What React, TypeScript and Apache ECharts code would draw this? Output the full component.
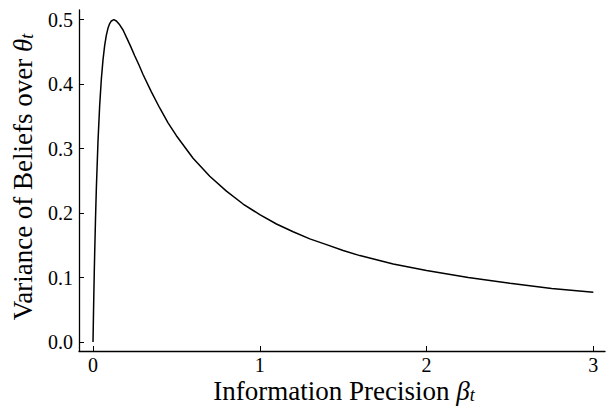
import React, { useEffect, useRef } from "react";
import * as echarts from "echarts";

const precision: number[] = [
  0, 0.0025, 0.005, 0.0075, 0.01, 0.015, 0.02, 0.03, 0.04, 0.05, 0.06, 0.07, 0.08, 0.09, 0.1,
  0.11, 0.125, 0.14, 0.16, 0.18, 0.2, 0.225, 0.25, 0.275, 0.3, 0.35, 0.4, 0.45, 0.5, 0.6, 0.7,
  0.8, 0.9, 1.0, 1.1, 1.2, 1.3, 1.4, 1.5, 1.6, 1.8, 2.0, 2.25, 2.5, 2.75, 3.0,
];
const variance: number[] = [
  0, 0.038, 0.074, 0.107, 0.137, 0.191, 0.238, 0.312, 0.367, 0.408, 0.438, 0.46, 0.476, 0.487, 0.494,
  0.498, 0.5, 0.498, 0.492, 0.484, 0.473, 0.459, 0.444, 0.43, 0.415, 0.388, 0.363, 0.34, 0.32, 0.285, 0.257,
  0.234, 0.214, 0.1975, 0.183, 0.171, 0.16, 0.151, 0.142, 0.134, 0.121, 0.111, 0.1, 0.091, 0.083, 0.077,
];
const xTicks: number[] = [0, 1, 2, 3];
const yTicks: number[] = [0, 0.1, 0.2, 0.3, 0.4, 0.5];
const xTitle = "Information Precision ";
const yTitle = "Variance of Beliefs over ";

const FONT = "'Liberation Serif', 'DejaVu Serif', serif";

export default function App() {
  const ref = useRef<HTMLDivElement>(null);
  useEffect(() => {
    if (!ref.current) return;
    const chart = echarts.init(ref.current, null, { renderer: "svg" });
    const data = precision.map((p, i) => [p, variance[i]]);
    const rich = {
      n: { fontFamily: FONT, fontSize: 27, lineHeight: 26, color: "#000" },
      g: { fontFamily: FONT, fontSize: 27, lineHeight: 26, fontStyle: "italic", color: "#000" },
      s: {
        fontFamily: FONT,
        fontSize: 18,
        lineHeight: 18,
        fontStyle: "italic",
        color: "#000",
        verticalAlign: "bottom",
        padding: [8, 0, 0, 0],
      },
    };
    chart.setOption({
      animation: false,
      backgroundColor: "#fff",
      grid: { left: 79, top: 10, width: 526, height: 341, containLabel: false },
      xAxis: {
        type: "value",
        min: -0.084,
        max: 3.07,
        splitLine: { show: false },
        axisLine: { show: true, onZero: false, lineStyle: { color: "#000", width: 1.3 } },
        axisTick: { show: true, inside: true, length: 5, customValues: xTicks, lineStyle: { color: "#000", width: 1 } },
        axisLabel: {
          show: true,
          customValues: xTicks,
          formatter: (v: number) => String(v),
          fontFamily: FONT,
          fontSize: 20,
          color: "#000",
          margin: 4,
        },
      },
      yAxis: {
        type: "value",
        min: -0.014,
        max: 0.515,
        splitLine: { show: false },
        axisLine: { show: true, onZero: false, lineStyle: { color: "#000", width: 1.3 } },
        axisTick: { show: true, inside: true, length: 5, customValues: yTicks, lineStyle: { color: "#000", width: 1 } },
        axisLabel: {
          show: true,
          customValues: yTicks,
          formatter: (v: number) => v.toFixed(1),
          fontFamily: FONT,
          fontSize: 20,
          color: "#000",
          margin: 6,
        },
      },
      graphic: [
        {
          type: "text",
          x: 344,
          y: 391,
          style: {
            text: `{n|${xTitle}}{g|β}{s|t}`,
            rich,
            align: "center",
            verticalAlign: "middle",
          },
        },
        {
          type: "text",
          x: 23,
          y: 177,
          rotation: Math.PI / 2,
          style: {
            text: `{n|${yTitle}}{g|θ}{s|t}`,
            rich,
            align: "center",
            verticalAlign: "middle",
          },
        },
      ],
      series: [
        {
          type: "line",
          data,
          smooth: false,
          showSymbol: false,
          symbol: "none",
          lineStyle: { color: "#000", width: 1.5 },
        },
      ],
    });
    return () => chart.dispose();
  }, []);
  return <div ref={ref} style={{ width: 606, height: 407, position: "absolute", left: 0, top: 0 }} />;
}
